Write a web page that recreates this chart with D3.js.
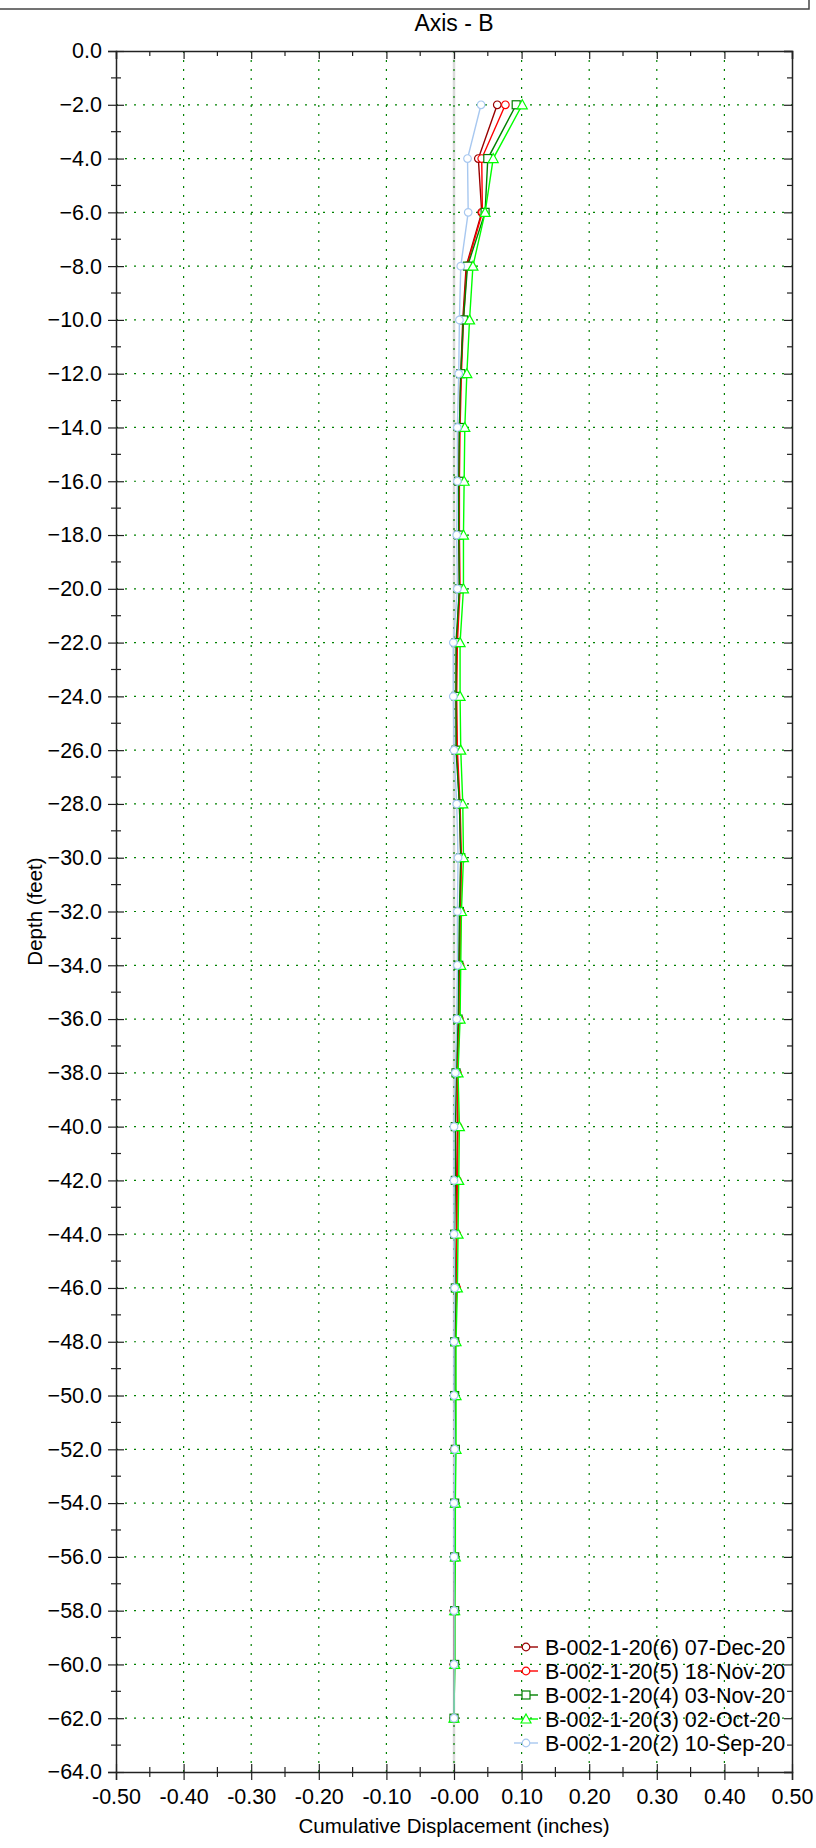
<!DOCTYPE html>
<html>
<head>
<meta charset="utf-8">
<script src="https://cdn.jsdelivr.net/npm/d3@7"></script>
<style>
  body { margin: 0; background: #fff; }
  svg { display: block; font-family: "Liberation Sans", Arial, sans-serif; }
</style>
</head>
<body>
<div class="chart"></div>
<script>
// depths (feet) and cumulative displacement (inches) per survey
const depths = [-2,-4,-6,-8,-10,-12,-14,-16,-18,-20,-22,-24,-26,-28,-30,-32,-34,-36,-38,-40,-42,-44,-46,-48,-50,-52,-54,-56,-58,-60,-62];

const s6 = [0.064,0.036,0.041,0.018,0.013,0.010,0.008,0.007,0.007,0.008,0.004,0.003,0.004,0.008,0.010,0.009,0.008,0.007,0.004,0.005,0.004,0.004,0.003,0.001,0.001,0.001,0.001,0.001,0.000,0.000,0.000];
const s5 = [0.076,0.041,0.042,0.019,0.014,0.011,0.009,0.008,0.008,0.009,0.005,0.004,0.005,0.009,0.011,0.010,0.009,0.008,0.005,0.006,0.005,0.004,0.004,0.002,0.001,0.001,0.001,0.001,0.000,0.000,0.000];
const s4 = [0.092,0.050,0.046,0.020,0.014,0.010,0.008,0.007,0.007,0.008,0.003,0.003,0.003,0.008,0.010,0.008,0.007,0.006,0.003,0.002,0.002,0.001,0.002,0.001,0.001,0.002,0.001,0.001,0.001,0.001,0.000];
const s3 = [0.101,0.058,0.046,0.028,0.023,0.019,0.016,0.015,0.014,0.014,0.009,0.009,0.010,0.013,0.014,0.011,0.010,0.009,0.006,0.008,0.007,0.006,0.005,0.003,0.003,0.003,0.002,0.002,0.001,0.001,0.000];
const s2 = [0.040,0.020,0.021,0.010,0.008,0.007,0.005,0.005,0.004,0.005,-0.001,-0.001,0.000,0.004,0.006,0.005,0.005,0.004,0.002,0.000,0.000,0.000,0.001,0.000,0.000,0.001,0.000,0.000,0.000,0.000,0.000];

const seriesNames = ["B-002-1-20(6) 07-Dec-20","B-002-1-20(5) 18-Nov-20","B-002-1-20(4) 03-Nov-20","B-002-1-20(3) 02-Oct-20","B-002-1-20(2) 10-Sep-20"];
const seriesValues = [s6, s5, s4, s3, s2];
const seriesColors = ["#990000","#ff0000","#008000","#00ff00","#a8c8f0"];
const seriesShapes = ["circle","circle","square","triangle","circle"];

const xTicks = [-0.5,-0.4,-0.3,-0.2,-0.1,0,0.1,0.2,0.3,0.4,0.5];
const xTickLabels = ["-0.50","-0.40","-0.30","-0.20","-0.10","-0.00","0.10","0.20","0.30","0.40","0.50"];
const yTicks = d3.range(0, -65, -2);

const W = 816, H = 1848;
const margin = {top: 51, right: 24, bottom: 76, left: 116};
const width = W - margin.left - margin.right,
      height = H - margin.top - margin.bottom;

const svg = d3.select(".chart").append("svg")
    .attr("width", W)
    .attr("height", H);

// box edge at the very top of the page
svg.append("rect")
    .attr("x", -5).attr("y", -20)
    .attr("width", 814).attr("height", 29)
    .attr("fill", "none")
    .attr("stroke", "#444")
    .attr("stroke-width", 1.5);

svg.append("text")
    .attr("x", margin.left + width / 2)
    .attr("y", 31)
    .attr("text-anchor", "middle")
    .attr("font-size", 23)
    .text("Axis - B");

const g = svg.append("g")
    .attr("transform", `translate(${margin.left},${margin.top})`);

const x = d3.scaleLinear().domain([-0.5, 0.5]).range([0, width]);
const y = d3.scaleLinear().domain([0, -64]).range([0, height]);

// zero line
g.append("line")
    .attr("x1", x(0)).attr("x2", x(0))
    .attr("y1", 0).attr("y2", height)
    .attr("stroke", "#d9d9d9")
    .attr("stroke-width", 2.5);

// grid
g.append("g").selectAll("line")
  .data(xTicks.slice(1, -1))
  .join("line")
    .attr("x1", d => x(d)).attr("x2", d => x(d))
    .attr("y1", 0).attr("y2", height)
    .attr("stroke", "#008000")
    .attr("stroke-width", 1.2)
    .attr("stroke-dasharray", "2,7");
g.append("g").selectAll("line")
  .data(yTicks.slice(1, -1))
  .join("line")
    .attr("x1", 0).attr("x2", width)
    .attr("y1", d => y(d)).attr("y2", d => y(d))
    .attr("stroke", "#008000")
    .attr("stroke-width", 1.2)
    .attr("stroke-dasharray", "2,7");

// axes
const minorX = d3.range(-0.45, 0.5, 0.1);
const minorY = d3.range(-1, -64, -2);

const xAxis = g.append("g")
    .attr("transform", `translate(0,${height})`)
    .call(d3.axisBottom(x).tickValues(xTicks).tickSize(8).tickPadding(9)
      .tickFormat((d, i) => xTickLabels[i]));
xAxis.selectAll(".tick line").attr("y1", -8);
xAxis.selectAll("text").attr("font-size", 21.5).attr("fill", "#000");

const yAxis = g.append("g")
    .call(d3.axisLeft(y).tickValues(yTicks).tickSize(8).tickPadding(6)
      .tickFormat(d3.format(".1f")));
yAxis.selectAll(".tick line").attr("x1", 8);
yAxis.selectAll("text").attr("font-size", 21.5).attr("fill", "#000");

[xAxis, yAxis].forEach(a => {
  a.select(".domain").attr("stroke", "#222").attr("stroke-width", 1.5);
  a.selectAll(".tick line").attr("stroke", "#222").attr("stroke-width", 1.2);
});

// minor ticks bottom / left (crossing)
g.append("g").selectAll("line").data(minorX).join("line")
    .attr("x1", d => x(d)).attr("x2", d => x(d))
    .attr("y1", height - 5).attr("y2", height + 5)
    .attr("stroke", "#222").attr("stroke-width", 1.2);
g.append("g").selectAll("line").data(minorY).join("line")
    .attr("y1", d => y(d)).attr("y2", d => y(d))
    .attr("x1", -5).attr("x2", 5)
    .attr("stroke", "#222").attr("stroke-width", 1.2);

// top and right frame with inward ticks
const topAxis = g.append("g")
    .call(d3.axisTop(x).tickValues(xTicks).tickSize(-8).tickFormat(""));
const rightAxis = g.append("g")
    .attr("transform", `translate(${width},0)`)
    .call(d3.axisRight(y).tickValues(yTicks).tickSize(-8).tickFormat(""));
[topAxis, rightAxis].forEach(a => {
  a.select(".domain").attr("stroke", "#222").attr("stroke-width", 1.5);
  a.selectAll(".tick line").attr("stroke", "#222").attr("stroke-width", 1.2);
});
g.append("g").selectAll("line").data(minorX).join("line")
    .attr("x1", d => x(d)).attr("x2", d => x(d))
    .attr("y1", 0).attr("y2", 5)
    .attr("stroke", "#222").attr("stroke-width", 1.2);
g.append("g").selectAll("line").data(minorY).join("line")
    .attr("y1", d => y(d)).attr("y2", d => y(d))
    .attr("x1", width - 5).attr("x2", width)
    .attr("stroke", "#222").attr("stroke-width", 1.2);

// axis titles
svg.append("text")
    .attr("x", margin.left + width / 2)
    .attr("y", 1833)
    .attr("text-anchor", "middle")
    .attr("font-size", 20.5)
    .text("Cumulative Displacement (inches)");
svg.append("text")
    .attr("transform", `translate(42,${margin.top + height / 2}) rotate(-90)`)
    .attr("text-anchor", "middle")
    .attr("font-size", 20.5)
    .text("Depth (feet)");

// markers
function drawMarker(sel, shape, color) {
  if (shape === "circle") {
    sel.append("circle").attr("r", 3.8);
  } else if (shape === "square") {
    sel.append("rect").attr("x", -4).attr("y", -4).attr("width", 8).attr("height", 8);
  } else {
    sel.append("path").attr("d", "M0,-5L5,4L-5,4Z");
  }
  sel.selectAll("*")
    .attr("fill", "#fff")
    .attr("stroke", color)
    .attr("stroke-width", 1.2);
}

const line = d3.line()
    .x(d => x(d[1]))
    .y(d => y(d[0]));

seriesValues.forEach((vals, i) => {
  const pts = depths.map((d, j) => [d, vals[j]]);
  const sg = g.append("g");
  sg.append("path")
    .datum(pts)
    .attr("fill", "none")
    .attr("stroke", seriesColors[i])
    .attr("stroke-width", 1.4)
    .attr("d", line);
  sg.selectAll("g.mk").data(pts).join("g")
    .attr("class", "mk")
    .attr("transform", d => `translate(${x(d[1])},${y(d[0])})`)
    .each(function() { drawMarker(d3.select(this), seriesShapes[i], seriesColors[i]); });
});

// legend
const legend = svg.append("g")
    .attr("transform", "translate(514,1647)");
seriesNames.forEach((name, i) => {
  const row = legend.append("g").attr("transform", `translate(0,${i * 24})`);
  row.append("line")
    .attr("x1", 0).attr("x2", 24)
    .attr("stroke", seriesColors[i])
    .attr("stroke-width", 1.4);
  const m = row.append("g").attr("transform", "translate(12,0)");
  drawMarker(m, seriesShapes[i], seriesColors[i]);
  row.append("text")
    .attr("x", 31)
    .attr("y", 7.5)
    .attr("font-size", 21.5)
    .text(name);
});
</script>
</body>
</html>
